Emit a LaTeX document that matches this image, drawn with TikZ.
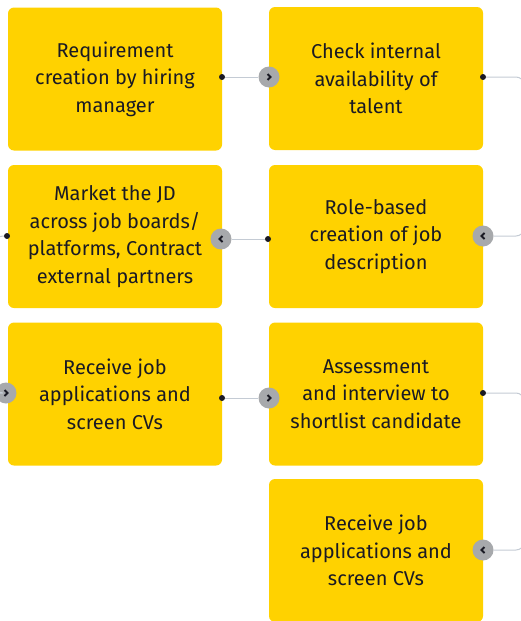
\documentclass[tikz,border=0pt]{standalone}
\usepackage{fontspec}
\setmainfont{Fira Sans}
\definecolor{eyyellow}{HTML}{FFD200}
\definecolor{knob}{HTML}{A7A9AC}
\definecolor{ink}{HTML}{1A1A24}
\definecolor{wire}{HTML}{C4CBD4}
\begin{document}
\begin{tikzpicture}[x=1pt,y=-1pt,
  stepbox/.style={fill=eyyellow, rounded corners=6pt, minimum width=214pt, minimum height=143pt,
    inner sep=0pt, align=center, text=ink, font=\fontsize{20}{27.5}\selectfont},
  knobnext/.style={circle, fill=knob, minimum size=21pt, inner sep=0pt,
    path picture={\draw[ink, line width=2pt] ([xshift=-1.5pt,yshift=3pt]path picture bounding box.center)
      -- ++(3pt,-3pt) -- ++(-3pt,-3pt);}},
  knobback/.style={circle, fill=knob, minimum size=21pt, inner sep=0pt,
    path picture={\draw[ink, line width=2pt] ([xshift=1.5pt,yshift=3pt]path picture bounding box.center)
      -- ++(-3pt,-3pt) -- ++(3pt,-3pt);}},
  dot/.style={circle, fill=ink, inner sep=0pt, minimum size=6pt},
  link/.style={draw=wire, line width=1pt, rounded corners=8pt}]
\useasboundingbox (0,0) rectangle (521,621);

% process steps
\node[stepbox] (req) at (115,79) {Requirement\\creation by hiring\\manager};
\node[stepbox] (check) at (376,78.5) {Check internal\\availability of\\talent};
\node[stepbox] (market) at (115,236.5) {Market the JD\\across job boards/\\platforms, Contract\\external partners};
\node[stepbox] (role) at (376,236.5) {Role-based\\creation of job\\description};
\node[stepbox] (recv) at (115,394) {Receive job\\applications and\\screen CVs};
\node[stepbox] (assess) at (376,394) {Assessment\\and interview to\\shortlist candidate};
\node[stepbox] (recvb) at (376,550.5) {Receive job\\applications and\\screen CVs};

% start dots
\node[dot] (d1) at (222,77) {};
\node[dot] (d2) at (483,77) {};
\node[dot] (d3) at (268,239) {};
\node[dot] (d4) at (7,236) {};
\node[dot] (d5) at (222,398) {};
\node[dot] (d6) at (483,393) {};

% arrow knobs
\node[knobnext] (k1) at (269,77) {};
\node[knobback] (k2) at (483,236) {};
\node[knobback] (k3) at (221,239) {};
\node[knobnext] (k4) at (6,393) {};
\node[knobnext] (k5) at (269,398) {};
\node[knobback] (k6) at (483,550) {};

\draw[link] (d1) -- (k1);
\draw[link] (d2) -- ++(41,0) |- (k2);
\draw[link] (d3) -- (k3);
\draw[link] (d4) -- ++(-12,0) |- (k4);
\draw[link] (d5) -- (k5);
\draw[link] (d6) -- ++(41,0) |- (k6);
\end{tikzpicture}
\end{document}
